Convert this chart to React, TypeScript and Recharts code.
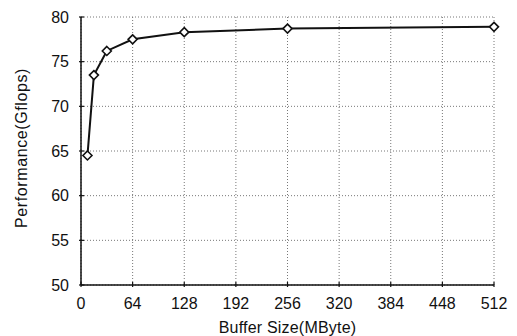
import { LineChart, Line, XAxis, YAxis, CartesianGrid } from 'recharts';

const bufferSizes = [8, 16, 32, 64, 128, 256, 512];
const gflops = [64.5, 73.5, 76.2, 77.5, 78.3, 78.7, 78.9];
const xTicks = [0, 64, 128, 192, 256, 320, 384, 448, 512];
const yTicks = [50, 55, 60, 65, 70, 75, 80];

const data = bufferSizes.map((size, i) => ({ size, perf: gflops[i] }));

const FONT = '"Liberation Sans", Arial, Helvetica, sans-serif';
const INK = '#111';

const BottomTick = (props: any) => {
  const { x, y, payload } = props;
  return (
    <g>
      <line x1={x} y1={y} x2={x} y2={y - 5} stroke={INK} strokeWidth={1.2} />
      <text x={x} y={y + 22} textAnchor="middle" fontSize={16} fill={INK} fontFamily={FONT}>
        {payload.value}
      </text>
    </g>
  );
};

const LeftTick = (props: any) => {
  const { x, y, payload } = props;
  return (
    <g>
      <line x1={x} y1={y} x2={x + 5} y2={y} stroke={INK} strokeWidth={1.2} />
      <text x={x - 10} y={y + 5.5} textAnchor="end" fontSize={16} fill={INK} fontFamily={FONT}>
        {payload.value}
      </text>
    </g>
  );
};

const TopTick = (props: any) => {
  const { x, y } = props;
  return <line x1={x} y1={y} x2={x} y2={y + 5} stroke={INK} strokeWidth={1.2} />;
};

const RightTick = (props: any) => {
  const { x, y } = props;
  return <line x1={x} y1={y} x2={x - 5} y2={y} stroke={INK} strokeWidth={1.2} />;
};

const Diamond = (props: any) => {
  const { cx, cy } = props;
  const r = 4.5;
  return (
    <path
      d={`M${cx},${cy - r} L${cx + r},${cy} L${cx},${cy + r} L${cx - r},${cy} Z`}
      fill="#fff"
      stroke={INK}
      strokeWidth={1.6}
    />
  );
};

export default function App() {
  return (
    <div style={{ position: 'absolute', left: 0, top: 0, background: '#fff' }}>
      <LineChart
        width={517}
        height={336}
        data={data}
        margin={{ top: 17, right: 23, bottom: 0, left: 0 }}
      >
        <CartesianGrid stroke="#777" strokeDasharray="1 2" strokeWidth={1} />
        <XAxis
          dataKey="size"
          type="number"
          domain={[0, 512]}
          ticks={xTicks}
          height={51}
          tickSize={0}
          tickLine={false}
          tick={<BottomTick />}
          axisLine={{ stroke: INK, strokeWidth: 1.5 }}
          label={{
            content: (p: any) => (
              <text
                x={p.viewBox.x + p.viewBox.width / 2}
                y={333}
                textAnchor="middle"
                fontSize={16}
                letterSpacing={0.2}
                fill={INK}
                fontFamily={FONT}
              >
                Buffer Size(MByte)
              </text>
            ),
          }}
        />
        <XAxis
          xAxisId="top"
          orientation="top"
          type="number"
          domain={[0, 512]}
          ticks={xTicks}
          height={0}
          tickSize={0}
          tickLine={false}
          tick={<TopTick />}
          axisLine={{ stroke: INK, strokeWidth: 1.5 }}
        />
        <YAxis
          type="number"
          domain={[50, 80]}
          ticks={yTicks}
          width={81}
          tickSize={0}
          tickLine={false}
          tick={<LeftTick />}
          axisLine={{ stroke: INK, strokeWidth: 1.5 }}
          label={{
            content: (p: any) => {
              const cy = p.viewBox.y + p.viewBox.height / 2 - 3;
              return (
                <text
                  x={21}
                  y={cy}
                  transform={`rotate(-90, 21, ${cy})`}
                  textAnchor="middle"
                  dominantBaseline="central"
                  fontSize={16}
                  letterSpacing={0.6}
                  fill={INK}
                  fontFamily={FONT}
                >
                  Performance(Gflops)
                </text>
              );
            },
          }}
        />
        <YAxis
          yAxisId="right"
          orientation="right"
          type="number"
          domain={[50, 80]}
          ticks={yTicks}
          width={0}
          tickSize={0}
          tickLine={false}
          tick={<RightTick />}
          axisLine={{ stroke: INK, strokeWidth: 1.5 }}
        />
        <Line
          dataKey="perf"
          type="linear"
          stroke={INK}
          strokeWidth={2}
          dot={<Diamond />}
          activeDot={false}
          isAnimationActive={false}
        />
      </LineChart>
    </div>
  );
}
